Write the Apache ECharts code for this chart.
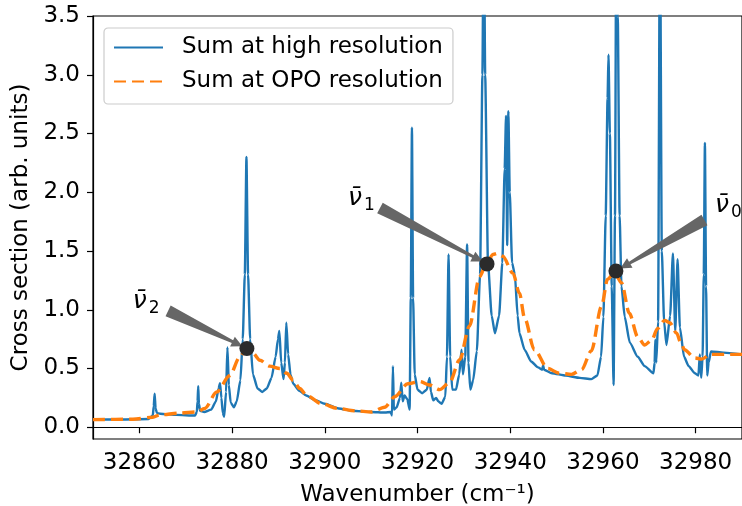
<!DOCTYPE html>
<html>
<head>
<meta charset="utf-8">
<script src="https://cdn.jsdelivr.net/npm/echarts@6/dist/echarts.min.js"></script>
<style>
html,body{margin:0;padding:0;background:#fff;overflow:hidden;}
#chart{width:742px;height:506px;}
</style>
</head>
<body>
<div id="chart"></div>
<script>
// ---------------- data ----------------
const xTicks = [32860, 32880, 32900, 32920, 32940, 32960, 32980];
const yTicks = [0, 0.5, 1.0, 1.5, 2.0, 2.5, 3.0, 3.5];

const highResX = [32850.0,32856.0,32862.0,32862.9,32863.1,32863.3,32863.5,32863.8,32864.5,32868.0,32872.0,32872.4,32872.55,32872.7,32872.85,32873.1,32874.0,32875.5,32876.5,32877.1,32877.4,32877.7,32878.0,32878.3,32878.7,32879.0,32879.3,32879.7,32880.4,32881.0,32881.8,32882.3,32882.75,32883.1,32883.45,32883.9,32884.5,32885.5,32886.5,32887.5,32888.5,32889.4,32889.9,32890.2,32890.6,32891.1,32891.4,32891.7,32892.1,32892.6,32893.2,32894.5,32896.0,32898.0,32900.0,32903.0,32906.0,32910.0,32913.0,32914.2,32914.5,32914.7,32914.9,32915.5,32916.2,32916.5,32916.8,32917.2,32917.8,32918.3,32918.55,32918.8,32919.05,32919.4,32920.0,32921.0,32922.0,32922.6,32922.9,32923.4,32924.0,32924.5,32925.2,32926.0,32926.35,32926.7,32927.05,32927.5,32928.3,32929.0,32929.5,32929.8,32930.3,32930.7,32931.0,32931.4,32932.0,32932.8,32933.5,32934.0,32934.3,32934.6,32935.2,32936.0,32936.7,32937.6,32938.3,32938.8,32939.1,32939.35,32939.6,32939.9,32940.4,32941.0,32941.6,32942.0,32943.1,32944.5,32946.0,32946.9,32947.1,32947.3,32949.0,32952.0,32955.0,32957.5,32958.8,32959.6,32960.1,32960.6,32961.0,32961.2,32961.5,32961.9,32962.3,32962.6,32962.9,32963.2,32963.6,32964.0,32964.7,32965.8,32967.5,32969.0,32970.9,32971.15,32971.3,32971.5,32971.9,32972.3,32972.7,32973.2,32973.7,32974.5,32975.1,32975.6,32976.1,32976.6,32977.5,32978.5,32979.8,32980.6,32980.9,32981.2,32981.5,32981.75,32982.0,32982.25,32982.5,32982.8,32983.3,32986.0,32990.0];
const highResY = [0.065,0.066,0.070,0.10,0.18,0.285,0.16,0.12,0.115,0.105,0.10,0.13,0.22,0.35,0.20,0.14,0.13,0.15,0.22,0.33,0.375,0.25,0.12,0.09,0.30,0.68,0.36,0.21,0.17,0.22,0.40,0.75,1.30,2.30,1.30,0.75,0.45,0.33,0.30,0.33,0.42,0.60,0.75,0.82,0.55,0.41,0.55,0.89,0.62,0.45,0.37,0.31,0.27,0.23,0.20,0.16,0.14,0.13,0.125,0.13,0.10,0.52,0.15,0.17,0.25,0.38,0.22,0.27,0.24,0.15,1.1,2.55,1.1,0.45,0.32,0.29,0.32,0.42,0.30,0.23,0.25,0.22,0.20,0.26,0.60,1.47,0.60,0.32,0.32,0.45,0.66,0.45,0.60,1.555,0.55,0.32,0.40,0.65,1.3,3.0,4.5,3.0,1.4,0.95,0.80,0.95,1.4,2.2,2.65,1.55,2.69,2.0,1.40,1.30,0.95,0.80,0.66,0.56,0.51,0.49,0.53,0.49,0.46,0.44,0.42,0.41,0.44,0.60,0.94,1.8,2.8,3.17,2.5,1.2,0.36,1.8,4.5,3.5,1.8,1.2,0.94,0.72,0.60,0.52,0.46,0.55,0.745,0.55,0.90,4.5,1.5,0.90,0.70,0.95,1.48,0.82,1.43,0.85,0.60,0.52,0.46,0.44,0.62,0.42,0.6,1.3,2.42,1.2,0.44,0.55,0.645,0.635,0.62];

const opoX = [32850.0,32858.6,32862.9,32864.4,32868.7,32872.4,32874.1,32876.7,32879.5,32881.7,32883.1,32884.5,32886.0,32888.1,32890.3,32891.8,32893.2,32894.6,32896.1,32899.3,32902.8,32906.5,32910.1,32912.9,32915.1,32917.9,32920.5,32922.6,32924.8,32926.9,32929.1,32931.2,32933.4,32934.8,32936.3,32937.3,32938.4,32940.6,32942.0,32943.1,32945.2,32948.1,32950.6,32953.2,32955.4,32957.5,32959.7,32961.0,32962.5,32964.0,32965.7,32967.5,32969.0,32970.5,32971.8,32973.3,32974.4,32975.9,32976.8,32977.6,32979.8,32981.3,32983.2,32990.0];
const opoY = [0.065,0.068,0.085,0.105,0.12,0.13,0.16,0.30,0.44,0.60,0.67,0.63,0.57,0.52,0.50,0.46,0.40,0.33,0.27,0.20,0.16,0.14,0.13,0.17,0.26,0.37,0.39,0.36,0.32,0.38,0.575,0.86,1.28,1.39,1.47,1.48,1.455,1.31,1.14,0.93,0.66,0.50,0.46,0.45,0.49,0.65,1.03,1.26,1.32,1.23,0.97,0.77,0.70,0.74,0.84,0.91,0.89,0.80,0.72,0.66,0.59,0.58,0.62,0.62];

// marked points and their annotations
const markX = [32883.2, 32935.0, 32962.8];
const markY = [0.67, 1.39, 1.33];
const markSub = ['2', '1', '0'];
const tailX = [32866.2, 32911.9, 32981.9];
const tailY = [0.99, 1.866, 1.764];
const labelX = [32860.1, 32906.5, 32985.7];
const labelY = [1.067, 1.95, 1.89];

// ---------------- chart ----------------
const FONT = 'DejaVu Sans';
const chart = echarts.init(document.getElementById('chart'), null, {renderer: 'canvas'});

const zip = (a, b) => a.map((v, i) => [v, b[i]]);

const option = {
  animation: false,
  backgroundColor: '#fff',
  textStyle: {fontFamily: FONT},
  grid: {left: 93, right: 0, top: 16, bottom: 67, show: true, borderColor: '#000', borderWidth: 1.2,
         backgroundColor: 'transparent', containLabel: false, outerBoundsMode: 'none'},
  legend: {
    orient: 'vertical', left: 104, top: 28,
    padding: [8, 10, 11, 9],
    itemGap: 11, itemWidth: 49, itemHeight: 14,
    itemStyle: {opacity: 0},
    backgroundColor: 'rgba(255,255,255,0.8)', borderColor: '#cccccc', borderWidth: 1.2, borderRadius: 4,
    textStyle: {fontSize: 23, color: '#000', fontFamily: FONT, padding: [0, 0, 0, 14]},
    data: ['Sum at high resolution', 'Sum at OPO resolution']
  },
  xAxis: {
    type: 'value', min: 32850, max: 32990,
    name: 'Wavenumber (cm⁻¹)', nameLocation: 'middle', nameGap: 45,
    nameTextStyle: {fontSize: 23, color: '#000', fontFamily: FONT},
    axisLine: {show: true, lineStyle: {color: '#000', width: 1.2}},
    axisTick: {show: true, inside: false, length: 6, lineStyle: {color: '#000', width: 1.2}, customValues: xTicks},
    axisLabel: {fontSize: 23, color: '#000', fontFamily: FONT, margin: 13, customValues: xTicks, formatter: v => String(v)},
    splitLine: {show: false}
  },
  yAxis: {
    type: 'value', min: -0.1, max: 3.5,
    name: 'Cross section (arb. units)', nameLocation: 'middle', nameGap: 56, nameRotate: 90,
    nameTextStyle: {fontSize: 23, color: '#000', fontFamily: FONT},
    axisLine: {show: true, lineStyle: {color: '#000', width: 1.2}},
    axisTick: {show: true, inside: false, length: 6, lineStyle: {color: '#000', width: 1.2}, customValues: yTicks},
    axisLabel: {fontSize: 23, color: '#000', fontFamily: FONT, margin: 13, customValues: yTicks, formatter: v => v.toFixed(1)},
    splitLine: {show: false}
  },
  series: [
    {
      name: 'Sum at high resolution', type: 'line', data: zip(highResX, highResY),
      symbol: 'none', showSymbol: false, clip: true, z: 2, smooth: 0.2, smoothMonotone: 'x',
      lineStyle: {color: '#1f77b4', width: 2.4}, itemStyle: {color: '#1f77b4'}
    },
    {
      name: 'Sum at OPO resolution', type: 'line', data: zip(opoX, opoY),
      symbol: 'none', showSymbol: false, clip: true, z: 3, smooth: 0.3, smoothMonotone: 'x',
      lineStyle: {color: '#ff7f0e', width: 3.4, type: [12, 6]}, itemStyle: {color: '#ff7f0e'}
    },
    {
      name: 'marks', type: 'scatter', data: zip(markX, markY),
      symbol: 'circle', symbolSize: 15, z: 10,
      itemStyle: {color: '#2b2b2b', opacity: 1}
    }
  ]
};
chart.setOption(option);

// annotation arrows + labels (positions derived from data coordinates through the chart scales)
function arrowPoly(t, h) {
  const dx = h[0] - t[0], dy = h[1] - t[1];
  const L = Math.hypot(dx, dy);
  const ux = dx / L, uy = dy / L, nx = -uy, ny = ux;
  const shrink = 5, headLen = 11, tw = 12, nw = 3, hw = 11;
  const tip = [h[0] - ux * shrink, h[1] - uy * shrink];
  const b = [tip[0] - ux * headLen, tip[1] - uy * headLen];
  return [
    [t[0] + nx * tw / 2, t[1] + ny * tw / 2],
    [b[0] + nx * nw / 2, b[1] + ny * nw / 2],
    [b[0] + nx * hw / 2, b[1] + ny * hw / 2],
    tip,
    [b[0] - nx * hw / 2, b[1] - ny * hw / 2],
    [b[0] - nx * nw / 2, b[1] - ny * nw / 2],
    [t[0] - nx * tw / 2, t[1] - ny * tw / 2]
  ];
}
const graphics = [];
for (let i = 0; i < markX.length; i++) {
  const h = chart.convertToPixel({gridIndex: 0}, [markX[i], markY[i]]);
  const t = chart.convertToPixel({gridIndex: 0}, [tailX[i], tailY[i]]);
  const l = chart.convertToPixel({gridIndex: 0}, [labelX[i], labelY[i]]);
  graphics.push({type: 'polygon', z: 5, shape: {points: arrowPoly(t, h)}, style: {fill: '#666666'}});
  graphics.push({type: 'text', z: 6, x: l[0], y: l[1],
    style: {text: 'ν\u0304', font: 'italic 25px "DejaVu Sans"', fill: '#000', align: 'center', verticalAlign: 'middle'}});
  graphics.push({type: 'text', z: 6, x: l[0] + 9, y: l[1] + 7,
    style: {text: markSub[i], font: '17px "DejaVu Sans"', fill: '#000', align: 'left', verticalAlign: 'middle'}});
}
chart.setOption({graphic: graphics});
</script>
</body>
</html>
